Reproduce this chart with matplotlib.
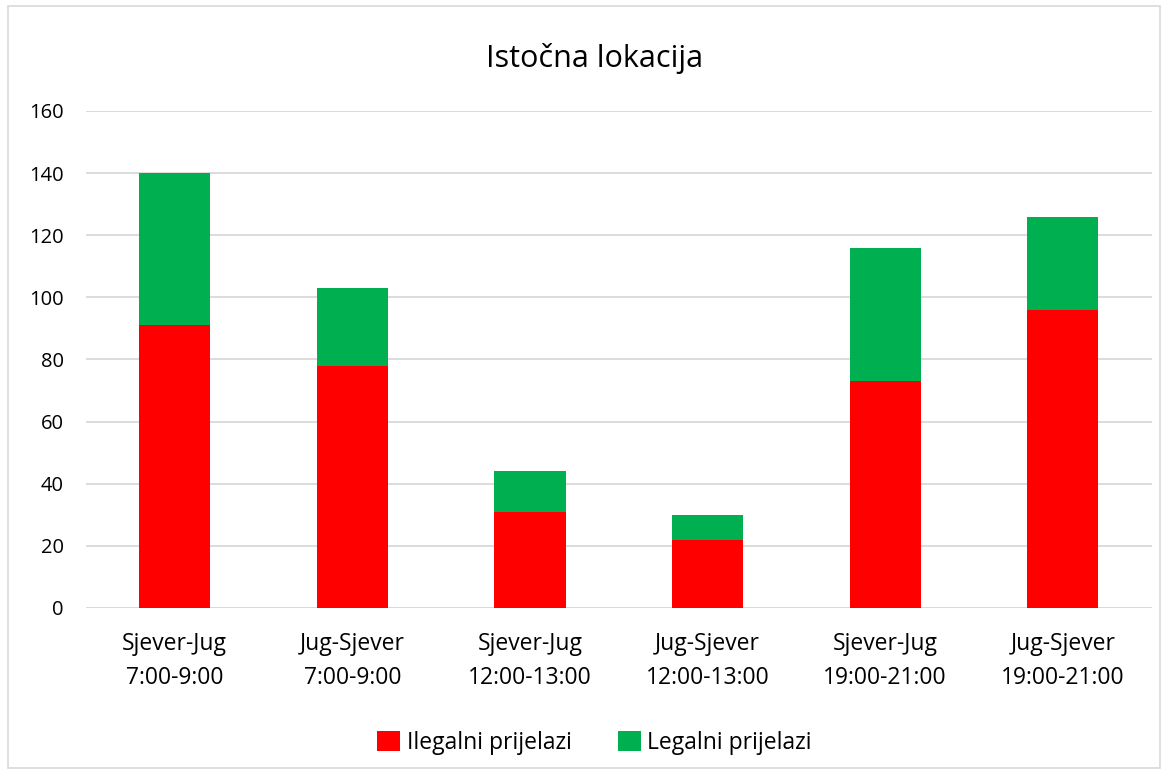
import matplotlib.pyplot as plt
from matplotlib.patches import Rectangle

categories = ["Sjever-Jug\n7:00-9:00", "Jug-Sjever\n7:00-9:00",
              "Sjever-Jug\n12:00-13:00", "Jug-Sjever\n12:00-13:00",
              "Sjever-Jug\n19:00-21:00", "Jug-Sjever\n19:00-21:00"]
ilegalni = [91, 78, 31, 22, 73, 96]
legalni = [49, 25, 13, 8, 43, 30]
yticks = [0, 20, 40, 60, 80, 100, 120, 140, 160]

RED = "#FF0000"
GREEN = "#00B050"

plt.rcParams['font.family'] = ['Open Sans', 'DejaVu Sans']

fig = plt.figure(figsize=(11.68, 7.76), dpi=100)
ax = fig.add_axes([0.0736, 0.2165, 0.9124, 0.6405])

x = list(range(len(categories)))
ax.bar(x, ilegalni, width=0.4, color=RED, label="Ilegalni prijelazi", zorder=3)
ax.bar(x, legalni, width=0.4, bottom=ilegalni, color=GREEN,
       label="Legalni prijelazi", zorder=3)

ax.set_xlim(-0.5, len(categories) - 0.5)
ax.set_ylim(0, 160)
ax.set_yticks(yticks)
ax.set_xticks(x)
ax.set_xticklabels(categories, fontsize=16.5, linespacing=1.55)
ax.tick_params(axis='y', labelsize=14.5, length=0, pad=16)
ax.tick_params(axis='x', length=0, pad=17)
ax.yaxis.grid(True, color="#D9D9D9", linewidth=1.3, zorder=0)
for s in ax.spines.values():
    s.set_visible(False)
ax.axhline(0, color="#D9D9D9", linewidth=1.3, zorder=2)

fig.text(0.509, 0.925, "Istočna lokacija", ha="center", va="center", fontsize=22)

fig.legend(loc="center", bbox_to_anchor=(0.509, 0.043), ncol=2, frameon=False,
           fontsize=16.5, handlelength=1.0, handleheight=1.0, handletextpad=0.3,
           columnspacing=2.0)

fig.add_artist(Rectangle((0.007, 0.01), 0.986, 0.982, transform=fig.transFigure,
                         fill=False, edgecolor="#D9D9D9", linewidth=1.2))

fig.savefig("out.png", dpi=100)
